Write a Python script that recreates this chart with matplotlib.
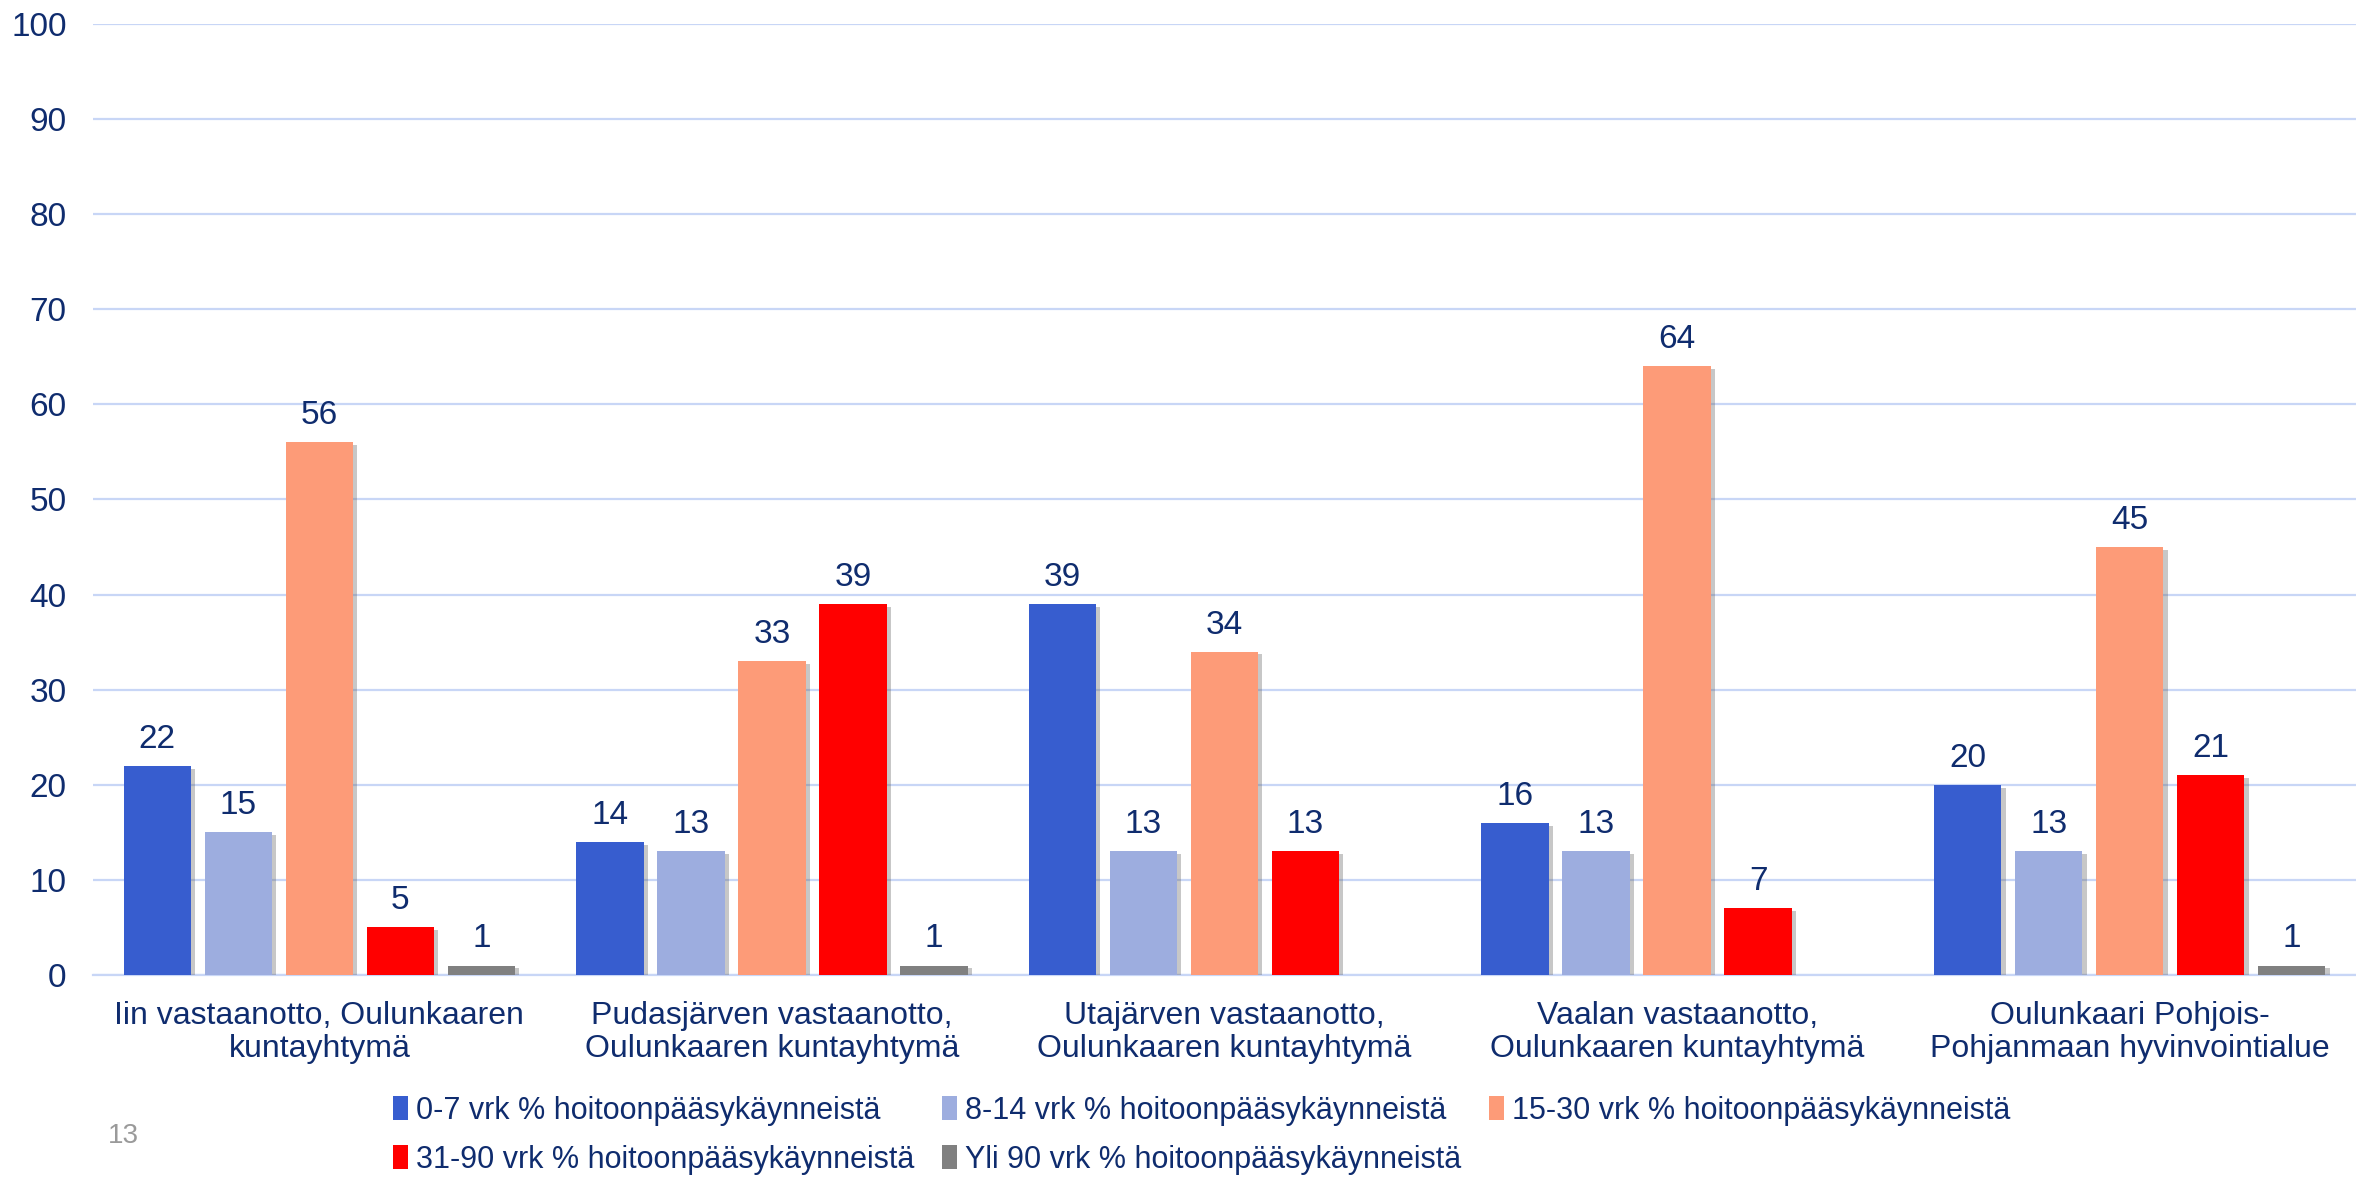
import numpy as np
import matplotlib
matplotlib.use('Agg')
import matplotlib.pyplot as plt
import matplotlib.patheffects as pe
from matplotlib.patches import Patch

plt.rcParams['font.family'] = ['Liberation Sans', 'DejaVu Sans']

# data
categories = ['Iin vastaanotto, Oulunkaaren\nkuntayhtymä',
              'Pudasjärven vastaanotto,\nOulunkaaren kuntayhtymä',
              'Utajärven vastaanotto,\nOulunkaaren kuntayhtymä',
              'Vaalan vastaanotto,\nOulunkaaren kuntayhtymä',
              'Oulunkaari Pohjois-\nPohjanmaan hyvinvointialue']
series_names = ['0-7 vrk % hoitoonpääsykäynneistä',
                '8-14 vrk % hoitoonpääsykäynneistä',
                '15-30 vrk % hoitoonpääsykäynneistä',
                '31-90 vrk % hoitoonpääsykäynneistä',
                'Yli 90 vrk % hoitoonpääsykäynneistä']
v_0_7 = [22, 14, 39, 16, 20]
v_8_14 = [15, 13, 13, 13, 13]
v_15_30 = [56, 33, 34, 64, 45]
v_31_90 = [5, 39, 13, 7, 21]
v_yli_90 = [1, 1, np.nan, np.nan, 1]
yticks = list(range(0, 101, 10))

series = [v_0_7, v_8_14, v_15_30, v_31_90, v_yli_90]
colors = ['#375DCF', '#9DADDF', '#FD9B78', '#FF0000', '#808080']
navy = '#0F2C6E'
grid_c = '#C8D6F6'

fig = plt.figure(figsize=(23.56, 11.80), dpi=100)
ax = fig.add_axes([0.0395, 0.1737, 0.9605, 0.806])

x = np.arange(len(categories))
pitch = 0.179
width = 0.149
shadow = [pe.SimplePatchShadow(offset=(3, -2), alpha=0.35, shadow_rgbFace='#606060'), pe.Normal()]

for i, (vals, col) in enumerate(zip(series, colors)):
    vals = np.array(vals, dtype=float)
    pos = x + (i - 2) * pitch
    bars = ax.bar(pos, np.nan_to_num(vals), width=width, color=col, zorder=3)
    for b, v in zip(bars, vals):
        if np.isnan(v):
            b.set_visible(False)
            continue
        b.set_path_effects(shadow)
        ax.annotate('%d' % v, (b.get_x() + b.get_width() / 2, v),
                    xytext=(0, 8), textcoords='offset points',
                    ha='center', va='bottom', fontsize=24, color=navy)

ax.set_xlim(-0.5, len(categories) - 0.5)
ax.set_ylim(0, 100)
ax.set_yticks(yticks)
ax.set_xticks(x)
ax.set_xticklabels(categories, fontsize=23, color=navy, linespacing=1.1)
ax.tick_params(axis='y', length=0, pad=19, labelsize=24, labelcolor=navy)
ax.tick_params(axis='x', length=0, pad=19)
ax.grid(axis='y', color=grid_c, linewidth=1.6, zorder=0)
ax.set_axisbelow(True)
for s in ['top', 'right', 'left']:
    ax.spines[s].set_visible(False)
ax.spines['bottom'].set_color(grid_c)
ax.spines['bottom'].set_linewidth(1.6)

# legend fills columns first, so reorder to read row by row
order = [0, 3, 1, 4, 2]
handles = [Patch(facecolor=colors[k], edgecolor='none') for k in order]
labels = [series_names[k] for k in order]
leg = fig.legend(handles, labels, ncol=3, loc='center',
                 bbox_to_anchor=(0.51, 0.038), frameon=False,
                 prop={'size': 22},
                 handlelength=0.5, handleheight=0.8, handletextpad=0.25,
                 columnspacing=0.9, labelspacing=0.62)
for t in leg.get_texts():
    t.set_color(navy)

fig.text(123 / 2356, 1 - 1136 / 1180, '13', fontsize=20, color='#9A9A9A',
         ha='center', va='center')

fig.savefig('out.png', dpi=100)
